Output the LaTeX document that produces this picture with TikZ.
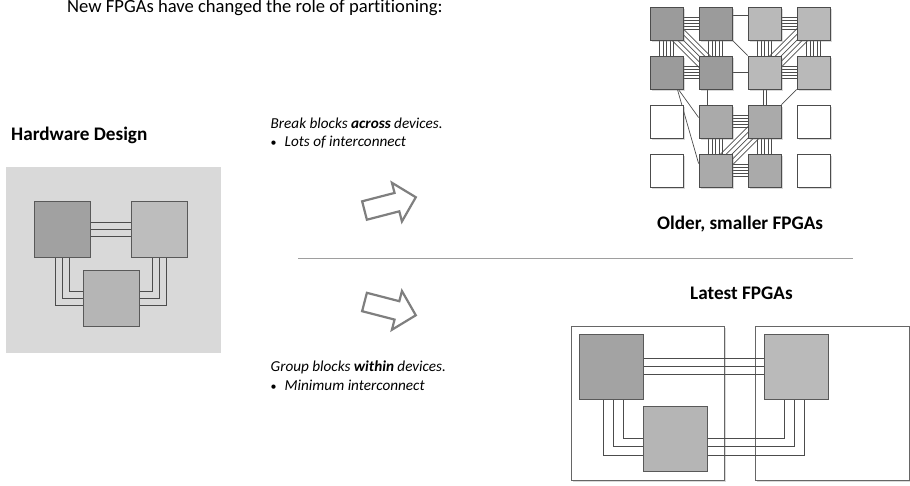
\documentclass[tikz,border=0pt]{standalone}
\usepackage{fontspec}
\setmainfont[RawFeature={-liga;-calt;-clig}]{Carlito}
\usetikzlibrary{calc, shadows}

\definecolor{olddark}{HTML}{9B9B9B}
\definecolor{oldlight}{HTML}{B9B9B9}
\definecolor{oldmid}{HTML}{AAAAAA}
\definecolor{hdbgcol}{HTML}{D9D9D9}
\definecolor{arrowgray}{HTML}{7F7F7F}

\pgfdeclarelayer{devices}
\pgfdeclarelayer{wires}
\pgfsetlayers{devices,wires,main}

\tikzset{
    tile/.style={draw=black!70, line width=0.8pt, minimum width=33pt, minimum height=33pt, inner sep=0pt,
        drop shadow={shadow xshift=1.5pt, shadow yshift=-1.5pt, opacity=0.3}},
    hdblock/.style={draw=black!65, line width=0.8pt, minimum width=56pt, minimum height=56pt, inner sep=0pt},
    lfblock/.style={draw=black!65, line width=0.8pt, minimum width=64pt, minimum height=65pt, inner sep=0pt},
    device/.style={draw=black!60, fill=white, line width=0.8pt, minimum width=154pt, minimum height=154pt,
        inner sep=0pt, drop shadow={shadow xshift=1.5pt, shadow yshift=-1.5pt, opacity=0.3}},
    wire/.style={draw=black!70, line width=0.7pt},
    bigarrow/.style={draw=arrowgray, line width=2.2pt, fill=white},
    caption/.style={inner sep=0pt, anchor=base west, font=\fontsize{19.2}{22}\selectfont\bfseries},
    note/.style={inner sep=0pt, anchor=base west, font=\fontsize{15.2}{18}\selectfont\itshape}
}

% n parallel wires between two nodes, spaced by #4
\newcommand\wires[4]{%
    \foreach \k in {1,...,#3}{%
        \pgfmathsetmacro\off{(\k-(#3+1)/2)*#4}
        \draw[wire] ($(#1)!\off pt!90:(#2)$) -- ($(#2)!\off pt!-90:(#1)$);
    }}
\newcommand\dotmark{\makebox[14pt][l]{\upshape\fontsize{12}{12}\selectfont\textbullet}}

\begin{document}
\begin{tikzpicture}[x=1pt, y=-1pt]
    \useasboundingbox (0,0) rectangle (910,485);

    % titles
    \node[inner sep=0pt, anchor=base west, font=\fontsize{18.6}{22}\selectfont] (title) at (67,12.8)
        {New FPGAs have changed the role of partitioning:};
    \node[caption] (hdtitle) at (11,140) {Hardware Design};
    \node[caption] (oldtitle) at (657,229.8) {Older, smaller FPGAs};
    \node[caption] (newtitle) at (690,299.8) {Latest FPGAs};

    % notes
    \node[note] (breaknote) at (270.5,128.5) {Break blocks \textbf{across} devices.};
    \node[note] (lotsnote) at (270.5,146.7) {\dotmark Lots of interconnect};
    \node[note] (groupnote) at (270.5,371.5) {Group blocks \textbf{within} devices.};
    \node[note] (minnote) at (270.5,390) {\dotmark Minimum interconnect};

    % hollow arrows
    \draw[bigarrow, shift={(364.5,210.5)}, rotate=14.5]
        (0,9.5) -- (33.5,9.5) -- (33.5,20) -- (53,0) -- (33.5,-20) -- (33.5,-9.5) -- (0,-9.5) -- cycle;
    \draw[bigarrow, shift={(364.5,302)}, rotate=-14.5]
        (0,9.5) -- (33.5,9.5) -- (33.5,20) -- (53,0) -- (33.5,-20) -- (33.5,-9.5) -- (0,-9.5) -- cycle;

    % separator
    \coordinate (sepL) at (298,258.5);
    \coordinate (sepR) at (853,258.5);
    \draw[draw=black!38, line width=1.6pt] (sepL) -- (sepR);

    % hardware design
    \begin{pgfonlayer}{devices}
        \node[fill=hdbgcol, minimum width=215pt, minimum height=186pt, inner sep=0pt] (hdbg) at (113.5,260) {};
    \end{pgfonlayer}
    \node[hdblock, fill=black!37] (hd1) at (62,229) {};
    \node[hdblock, fill=black!26] (hd2) at (159.5,229) {};
    \node[hdblock, fill=black!29] (hd3) at (111,298.5) {};
    \begin{pgfonlayer}{wires}
        \wires{hd1}{hd2}{3}{7}
        \foreach \d in {-7,0,7}{
            \draw[wire] ([xshift=\d pt]hd1.south) |- ([yshift=\d pt]hd3.west);
            \draw[wire] ([xshift=-\d pt]hd2.south) |- ([yshift=\d pt]hd3.east);
        }
    \end{pgfonlayer}

    % older fpgas: 4x4 grid
    \foreach \r/\c/\shade in {1/1/olddark, 1/2/olddark, 1/3/oldlight, 1/4/oldlight,
                              2/1/olddark, 2/2/olddark, 2/3/oldlight, 2/4/oldlight,
                              3/1/white, 3/2/oldmid, 3/3/oldmid, 3/4/white,
                              4/1/white, 4/2/oldmid, 4/3/oldmid, 4/4/white}
        \node[tile, fill=\shade] (g\r\c) at ({666.5+49*(\c-1)}, {23.5+49*(\r-1)}) {};
    \begin{pgfonlayer}{wires}
        % bundles
        \wires{g11}{g12}{5}{3}
        \wires{g13}{g14}{5}{3}
        \wires{g21}{g22}{5}{3}
        \wires{g23}{g24}{5}{3}
        \wires{g32}{g33}{5}{3}
        \wires{g42}{g43}{5}{3}
        \wires{g11}{g21}{5}{3.5}
        \wires{g12}{g22}{5}{3.5}
        \wires{g13}{g23}{5}{3.5}
        \wires{g14}{g24}{5}{3.5}
        \wires{g32}{g42}{5}{3.5}
        \wires{g33}{g43}{5}{3.5}
        \wires{g11}{g22}{5}{4}
        \wires{g14}{g23}{5}{4}
        \wires{g33}{g42}{5}{4}
        \wires{g23}{g33}{2}{3}
        % single links
        \draw[wire] ([yshift=8pt]g12.east) -- ([yshift=8pt]g13.west);
        \draw[wire] (g22) -- (g23);
        \draw[wire] (g12) -- (g23);
        \draw[wire] (g24) -- (g33);
        \draw[wire] ([xshift=-8pt]g22.south) -- ([xshift=-8pt]g32.north);
        \draw[wire] ([xshift=-5pt]g21.south east) -- ([yshift=4pt]g32.west);
        \draw[wire] ([xshift=-6pt]g21.south east) -- ([yshift=7pt]g42.west);
    \end{pgfonlayer}

    % latest fpgas
    \begin{pgfonlayer}{devices}
        \node[device, minimum width=153pt] (devA) at (647.5,403) {};
        \node[device] (devB) at (832,403) {};
    \end{pgfonlayer}
    \node[lfblock, fill=black!36] (lf1) at (611.3,366.7) {};
    \node[lfblock, fill=black!27] (lf2) at (796.2,366.7) {};
    \node[lfblock, fill=black!29] (lf3) at (675.7,439.2) {};
    \begin{pgfonlayer}{wires}
        \wires{lf1}{lf2}{3}{8}
        \foreach \dx/\dy in {-8/-16, 2/-7.5, 12/1}
            \draw[wire] ([xshift=\dx pt]lf1.south) |- ([yshift=\dy pt]lf3.west);
        \foreach \dx/\dy in {-12/1, -2/-7.5, 8/-16}
            \draw[wire] ([xshift=\dx pt]lf2.south) |- ([yshift=\dy pt]lf3.east);
    \end{pgfonlayer}
\end{tikzpicture}
\end{document}
